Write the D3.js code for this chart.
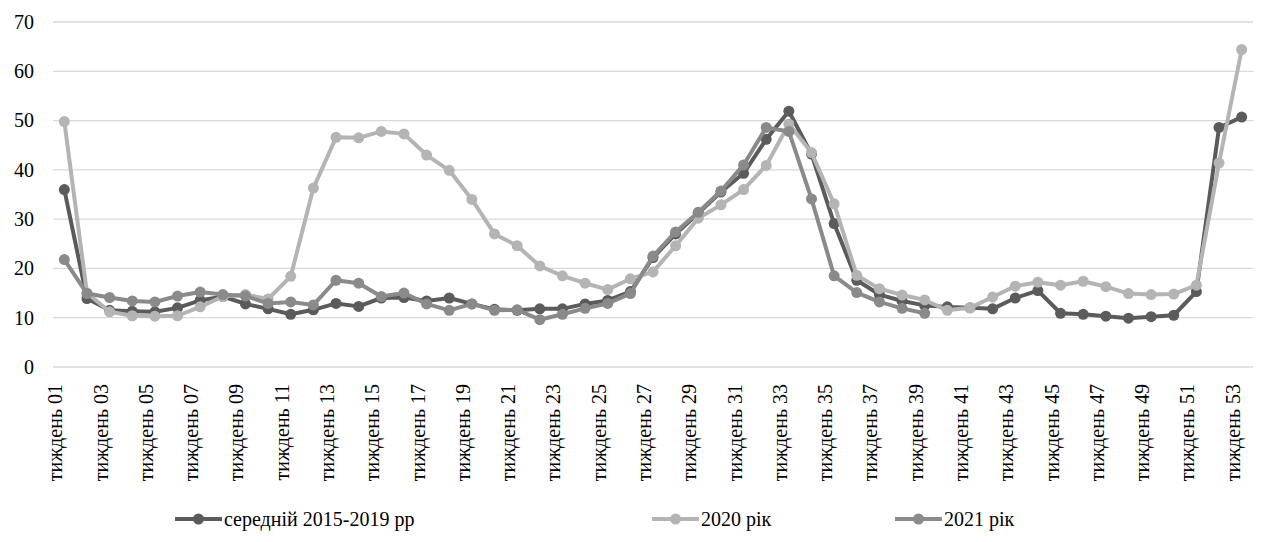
<!DOCTYPE html>
<html>
<head>
<meta charset="utf-8">
<script src="https://cdn.jsdelivr.net/npm/d3@7"></script>
<style>
  html, body { margin: 0; padding: 0; background: #fff; }
  svg { display: block; }
</style>
</head>
<body>
<svg id="chart" width="1263" height="542" font-family="Liberation Serif"></svg>
<script>
// Week categories (тиждень 01 … тиждень 53)
const weeks = d3.range(1, 54).map(n => "тиждень " + String(n).padStart(2, "0"));

// Average 2015–2019
const avg2015_2019 = [
  36, 13.9, 11.5, 11.3, 11.2, 12, 13.5, 14.3, 12.8, 11.8,
  10.7, 11.6, 12.9, 12.3, 14, 14.1, 13.4, 14, 12.8, 11.7,
  11.5, 11.8, 11.8, 12.8, 13.5, 15.3, 22.2, 27, 31.2, 35.5,
  39.3, 46.2, 51.9, 43.2, 29.1, 17.6, 14.7, 13.4, 12.5, 12.2,
  12, 11.8, 14, 15.5, 10.9, 10.7, 10.3, 9.9, 10.2, 10.5,
  15.3, 48.6, 50.7
];

// 2020
const year2020 = [
  49.8, 15, 11.2, 10.4, 10.3, 10.4, 12.2, 14.3, 14.7, 13.8,
  18.4, 36.3, 46.6, 46.5, 47.8, 47.3, 43, 39.9, 34, 27,
  24.6, 20.5, 18.5, 17, 15.7, 17.9, 19.3, 24.6, 30.2, 32.9,
  36, 40.9, 49.3, 43.5, 33.1, 18.6, 15.9, 14.6, 13.6, 11.5,
  12, 14.2, 16.4, 17.2, 16.6, 17.4, 16.3, 14.9, 14.7, 14.8,
  16.6, 41.4, 64.4
];

// 2021 (weeks 1–39)
const year2021 = [
  21.8, 14.9, 14.1, 13.4, 13.2, 14.4, 15.2, 14.7, 14.4, 12.9,
  13.2, 12.6, 17.6, 17, 14.3, 15, 12.8, 11.5, 12.8, 11.5,
  11.6, 9.6, 10.7, 11.9, 12.9, 14.9, 22.5, 27.4, 31.4, 35.7,
  41, 48.6, 47.8, 34.1, 18.5, 15.1, 13.2, 11.9, 10.9
];

const yTicks = [0, 10, 20, 30, 40, 50, 60, 70];

const seriesNames = ["середній 2015-2019 рр", "2020 рік", "2021 рік"];
const seriesData = [avg2015_2019, year2020, year2021];
const seriesColors = ["#5b5b5b", "#b4b4b4", "#8a8a8a"];

const FONT = "Liberation Serif";

const svg = d3.select("#chart");

const x = d3.scaleBand().domain(weeks).range([53, 1253]).padding(0);
const y = d3.scaleLinear().domain([0, 70]).range([367, 22]);

// Horizontal gridlines
svg.append("g")
  .selectAll("line")
  .data(yTicks)
  .join("line")
  .attr("x1", 53).attr("x2", 1253)
  .attr("y1", d => y(d)).attr("y2", d => y(d))
  .attr("stroke", "#d9d9d9")
  .attr("stroke-width", 1.3);

// Y axis labels
const yAxis = svg.append("g")
  .attr("transform", "translate(34,0)")
  .call(d3.axisLeft(y).tickValues(yTicks).tickSize(0).tickPadding(0));
yAxis.attr("font-family", FONT).attr("font-size", 20);
yAxis.select(".domain").remove();
yAxis.selectAll("text").attr("fill", "#000");

// X axis labels (odd weeks), rotated
const xAxis = svg.append("g")
  .attr("transform", "translate(0,367)")
  .call(d3.axisBottom(x)
    .tickValues(weeks.filter((d, i) => i % 2 === 0))
    .tickSize(0)
    .tickPadding(0));
xAxis.attr("font-family", FONT).attr("font-size", 20);
xAxis.select(".domain").remove();
xAxis.selectAll("text")
  .attr("fill", "#000")
  .attr("text-anchor", "end")
  .attr("dy", null)
  .attr("y", 0)
  .attr("x", 0)
  .attr("transform", "translate(-2,17) rotate(-90)");

// Lines and markers
const cx = d => x(d) + x.bandwidth() / 2;
seriesData.forEach((vals, si) => {
  const pts = vals.map((v, i) => ({ week: weeks[i], v }));
  const line = d3.line().x(d => cx(d.week)).y(d => y(d.v));
  const g = svg.append("g");
  g.append("path")
    .datum(pts)
    .attr("d", line)
    .attr("fill", "none")
    .attr("stroke", seriesColors[si])
    .attr("stroke-width", 4)
    .attr("stroke-linejoin", "round");
  g.selectAll("circle")
    .data(pts)
    .join("circle")
    .attr("cx", d => cx(d.week))
    .attr("cy", d => y(d.v))
    .attr("r", 5.5)
    .attr("fill", seriesColors[si]);
});

// Legend
const legendX = [175, 652, 895];
const legend = svg.append("g").attr("font-family", FONT).attr("font-size", 20);
seriesNames.forEach((name, i) => {
  const lg = legend.append("g").attr("transform", `translate(${legendX[i]},519)`);
  lg.append("line")
    .attr("x1", 0).attr("x2", 47).attr("y1", 0).attr("y2", 0)
    .attr("stroke", seriesColors[i]).attr("stroke-width", 4);
  lg.append("circle").attr("cx", 23.5).attr("cy", 0).attr("r", 5.5).attr("fill", seriesColors[i]);
  lg.append("text")
    .attr("x", 49).attr("y", 7)
    .attr("fill", "#000")
    .text(name);
});
</script>
</body>
</html>
